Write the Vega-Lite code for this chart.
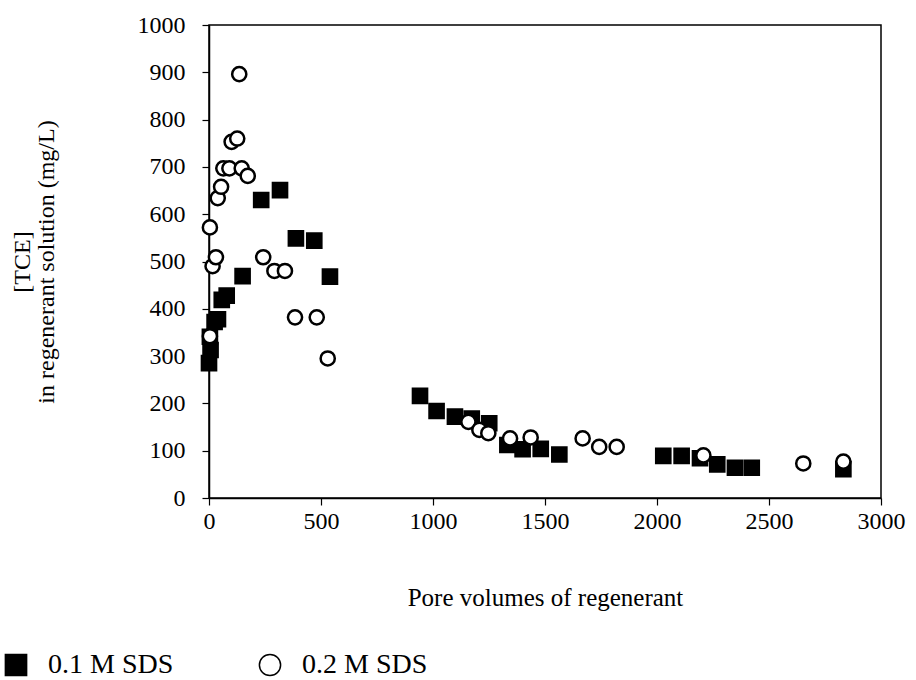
{
  "$schema": "https://vega.github.io/schema/vega-lite/v6.json",
  "width": 672,
  "height": 473,
  "autosize": "none",
  "padding": {"left": 209, "top": 25, "right": 35, "bottom": 182},
  "background": "white",
  "config": {
    "font": "Liberation Serif",
    "view": {"stroke": "black", "strokeWidth": 1.5},
    "axis": {"grid": false, "domainColor": "black", "domainWidth": 1.5, "tickColor": "black", "tickWidth": 1.2, "tickSize": 7, "labelColor": "black", "titleColor": "black", "labelFont": "Liberation Serif", "titleFont": "Liberation Serif", "titleFontWeight": "normal"}
  },
  "data": {
    "values": [
      {"x": 0, "y": 285, "s": "0.1 M SDS"},
      {"x": 7, "y": 313, "s": "0.1 M SDS"},
      {"x": 4, "y": 341, "s": "0.1 M SDS"},
      {"x": 25, "y": 372, "s": "0.1 M SDS"},
      {"x": 40, "y": 378, "s": "0.1 M SDS"},
      {"x": 57, "y": 419, "s": "0.1 M SDS"},
      {"x": 79, "y": 428, "s": "0.1 M SDS"},
      {"x": 150, "y": 469, "s": "0.1 M SDS"},
      {"x": 233, "y": 630, "s": "0.1 M SDS"},
      {"x": 317, "y": 651, "s": "0.1 M SDS"},
      {"x": 388, "y": 549, "s": "0.1 M SDS"},
      {"x": 470, "y": 544, "s": "0.1 M SDS"},
      {"x": 540, "y": 468, "s": "0.1 M SDS"},
      {"x": 942, "y": 216, "s": "0.1 M SDS"},
      {"x": 1016, "y": 184, "s": "0.1 M SDS"},
      {"x": 1098, "y": 172, "s": "0.1 M SDS"},
      {"x": 1173, "y": 168, "s": "0.1 M SDS"},
      {"x": 1251, "y": 158, "s": "0.1 M SDS"},
      {"x": 1332, "y": 112, "s": "0.1 M SDS"},
      {"x": 1400, "y": 103, "s": "0.1 M SDS"},
      {"x": 1481, "y": 104, "s": "0.1 M SDS"},
      {"x": 1564, "y": 92, "s": "0.1 M SDS"},
      {"x": 2028, "y": 89, "s": "0.1 M SDS"},
      {"x": 2110, "y": 89, "s": "0.1 M SDS"},
      {"x": 2192, "y": 84, "s": "0.1 M SDS"},
      {"x": 2269, "y": 71, "s": "0.1 M SDS"},
      {"x": 2348, "y": 64, "s": "0.1 M SDS"},
      {"x": 2423, "y": 64, "s": "0.1 M SDS"},
      {"x": 2832, "y": 61, "s": "0.1 M SDS"},
      {"x": 4, "y": 342, "s": "0.2 M SDS"},
      {"x": 16, "y": 490, "s": "0.2 M SDS"},
      {"x": 31, "y": 509, "s": "0.2 M SDS"},
      {"x": 4, "y": 572, "s": "0.2 M SDS"},
      {"x": 39, "y": 634, "s": "0.2 M SDS"},
      {"x": 54, "y": 658, "s": "0.2 M SDS"},
      {"x": 64, "y": 697, "s": "0.2 M SDS"},
      {"x": 91, "y": 697, "s": "0.2 M SDS"},
      {"x": 101, "y": 753, "s": "0.2 M SDS"},
      {"x": 126, "y": 760, "s": "0.2 M SDS"},
      {"x": 135, "y": 896, "s": "0.2 M SDS"},
      {"x": 146, "y": 697, "s": "0.2 M SDS"},
      {"x": 173, "y": 681, "s": "0.2 M SDS"},
      {"x": 242, "y": 509, "s": "0.2 M SDS"},
      {"x": 292, "y": 480, "s": "0.2 M SDS"},
      {"x": 339, "y": 480, "s": "0.2 M SDS"},
      {"x": 384, "y": 382, "s": "0.2 M SDS"},
      {"x": 481, "y": 382, "s": "0.2 M SDS"},
      {"x": 530, "y": 295, "s": "0.2 M SDS"},
      {"x": 1158, "y": 161, "s": "0.2 M SDS"},
      {"x": 1207, "y": 144, "s": "0.2 M SDS"},
      {"x": 1247, "y": 137, "s": "0.2 M SDS"},
      {"x": 1344, "y": 126, "s": "0.2 M SDS"},
      {"x": 1436, "y": 128, "s": "0.2 M SDS"},
      {"x": 1668, "y": 126, "s": "0.2 M SDS"},
      {"x": 1742, "y": 108, "s": "0.2 M SDS"},
      {"x": 1820, "y": 108, "s": "0.2 M SDS"},
      {"x": 2207, "y": 90, "s": "0.2 M SDS"},
      {"x": 2653, "y": 73, "s": "0.2 M SDS"},
      {"x": 2832, "y": 77, "s": "0.2 M SDS"}
    ]
  },
  "mark": {"type": "point", "filled": true, "stroke": "black", "strokeWidth": 2.5, "opacity": 1, "size": 200},
  "encoding": {
    "x": {
      "field": "x", "type": "quantitative",
      "scale": {"domain": [0, 3000], "nice": false, "zero": true},
      "axis": {"values": [0, 500, 1000, 1500, 2000, 2500, 3000], "format": "d", "labelFontSize": 24, "labelPadding": 4, "title": "Pore volumes of regenerant", "titleFontSize": 25, "titlePadding": 52, "labelFlush": false}
    },
    "y": {
      "field": "y", "type": "quantitative",
      "scale": {"domain": [0, 1000], "nice": false},
      "axis": {"values": [0, 100, 200, 300, 400, 500, 600, 700, 800, 900, 1000], "format": "d", "labelFontSize": 24, "labelPadding": 17, "title": ["[TCE]", "in regenerant solution (mg/L)"], "titleFontSize": 24, "titlePadding": 79, "titleLineHeight": 24, "labelFlush": false}
    },
    "shape": {
      "field": "s", "type": "nominal",
      "scale": {"domain": ["0.1 M SDS", "0.2 M SDS"], "range": ["square", "circle"]},
      "legend": {"orient": "none", "legendX": -207, "legendY": 626, "direction": "horizontal", "title": null, "padding": 0, "labelFontSize": 28, "labelFont": "Liberation Serif", "labelColor": "black", "symbolSize": 450, "columnPadding": 82, "labelOffset": 18,
        "encode": {"symbols": {"update": {"stroke": {"value": "black"}, "strokeWidth": {"value": 1.5}}}}}
    },
    "fill": {
      "field": "s", "type": "nominal",
      "scale": {"domain": ["0.1 M SDS", "0.2 M SDS"], "range": ["black", "white"]},
      "legend": {"orient": "none", "legendX": -207, "legendY": 626, "direction": "horizontal", "title": null, "padding": 0, "labelFontSize": 28, "labelFont": "Liberation Serif", "labelColor": "black", "symbolSize": 450, "columnPadding": 82, "labelOffset": 18,
        "encode": {"symbols": {"update": {"stroke": {"value": "black"}, "strokeWidth": {"value": 1.5}}}}}
    }
  }
}
